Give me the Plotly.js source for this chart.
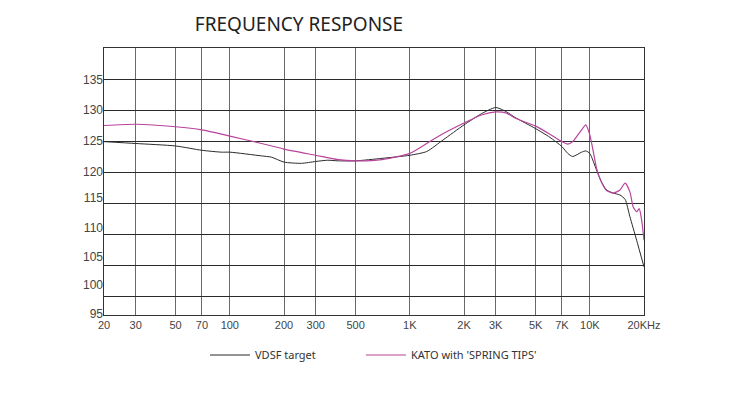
<!DOCTYPE html>
<html>
<head>
<meta charset="utf-8">
<script src="https://cdn.plot.ly/plotly-3.0.1.min.js"></script>
<style>html,body{margin:0;padding:0;background:#fff;}#chart{width:748px;height:394px;}</style>
</head>
<body>
<div id="chart"></div>
<script>
// Frequency (Hz) and level (dB)
const vdsfFreq = [20,30,50,70,90,100,150,170,200,250,300,350,400,500,700,1000,1240,1535,2000,2500,3000,3450,3840,5000,6000,7000,7540,8030,9000,9500,10000,10900,11600,12400,13500,14700,15700,16700,18200,20000];
const vdsfDb   = [124.9,124.6,124.2,123.5,123.2,123.2,122.6,122.4,121.6,121.4,121.7,121.9,121.8,121.8,122.2,122.7,123.3,125.2,127.6,129.4,130.4,129.7,128.8,127.0,125.6,124.1,123.0,122.5,123.2,123.4,123.0,120.3,118.4,117.1,116.6,116.3,115.6,112.8,109.0,104.7];

const katoFreq = [20,30,50,70,100,150,200,300,400,500,700,1000,1240,1535,2000,2500,3000,3450,3840,5000,6000,7000,7540,8030,9000,9500,10000,10500,10900,11600,12400,13500,14700,15700,16700,17400,18200,18800,19400,20000];
const katoDb   = [127.5,127.7,127.3,126.8,125.8,124.6,123.7,122.7,122.0,121.8,122.0,123.0,124.6,126.2,127.9,129.2,129.7,129.5,128.7,127.4,126.1,124.9,124.5,124.9,126.8,127.6,126.0,123.0,120.6,118.4,117.0,116.6,117.1,118.2,116.8,114.4,113.6,114.1,112.3,109.0];

const seriesNames = ["VDSF target", "KATO with 'SPRING TIPS'"];

const xTickVals = [20,30,50,70,100,200,300,500,1000,2000,3000,5000,7000,10000,20000];
const xTickText = ["20","30","50","70","100","200","300","500","1K","2K","3K","5K","7K","10K","20KHz"];

// grid levels and (slightly offset) printed labels as in the reference
const yGridVals = [100,105,110,115,120,125,130,135];
const yLabelVals = [134.8,130,125,120,115.9,111.05,106.4,101.8,97.1];
const yLabelText = ["135","130","125","120","115","110","105","100","95"];

const yRange = [96.94, 140];

const traces = [
  {x: vdsfFreq, y: vdsfDb, name: seriesNames[0], type: 'scatter', mode: 'lines', legend: 'legend',
   line: {color: '#2a2a2a', width: 1, shape: 'spline', smoothing: 0.6}},
  {x: katoFreq, y: katoDb, name: seriesNames[1], type: 'scatter', mode: 'lines', yaxis: 'y2', legend: 'legend2',
   line: {color: '#b8449c', width: 1.2, shape: 'spline', smoothing: 0.6}}
];

const legendFont = {family: 'Noto Sans', size: 11, color: '#333'};

const layout = {
  width: 748, height: 394,
  margin: {l: 104, r: 104, t: 48, b: 79},
  paper_bgcolor: '#ffffff', plot_bgcolor: '#ffffff',
  title: {text: 'FREQUENCY RESPONSE', x: 299/748, xref: 'container', xanchor: 'center',
          y: 1 - 24/394, yref: 'container', yanchor: 'middle',
          font: {family: 'Noto Sans', size: 19, color: '#222'}},
  xaxis: {type: 'log', range: [Math.log10(20), Math.log10(20000)],
          tickvals: xTickVals, ticktext: xTickText, tickmode: 'array',
          showgrid: true, gridcolor: '#6a6a6a', gridwidth: 1,
          showline: true, linecolor: '#333', linewidth: 1, mirror: true,
          ticks: '', zeroline: false,
          tickfont: {family: 'Liberation Sans', size: 11, color: '#444'}},
  yaxis: {range: yRange, tickmode: 'array', tickvals: yGridVals, showticklabels: false,
          showgrid: true, gridcolor: '#2a2a2a', gridwidth: 1,
          zeroline: false, showline: true, linecolor: '#333', linewidth: 1, mirror: true, ticks: ''},
  yaxis2: {range: yRange, overlaying: 'y', side: 'left', tickmode: 'array', tickvals: yLabelVals, ticktext: yLabelText,
           showgrid: false, zeroline: false, showline: false, ticks: '',
           tickfont: {family: 'Liberation Sans', size: 12, color: '#444'}},
  showlegend: true,
  legend: {orientation: 'h', x: (205-104)/540, xanchor: 'left', y: 1 - 355/394, yref: 'container', yanchor: 'middle',
           font: legendFont, itemwidth: 40, bgcolor: 'rgba(0,0,0,0)'},
  legend2: {orientation: 'h', x: (361-104)/540, xanchor: 'left', y: 1 - 355/394, yref: 'container', yanchor: 'middle',
           font: legendFont, itemwidth: 40, bgcolor: 'rgba(0,0,0,0)'}
};

Plotly.newPlot('chart', traces, layout, {staticPlot: true, displayModeBar: false});
</script>
</body>
</html>
